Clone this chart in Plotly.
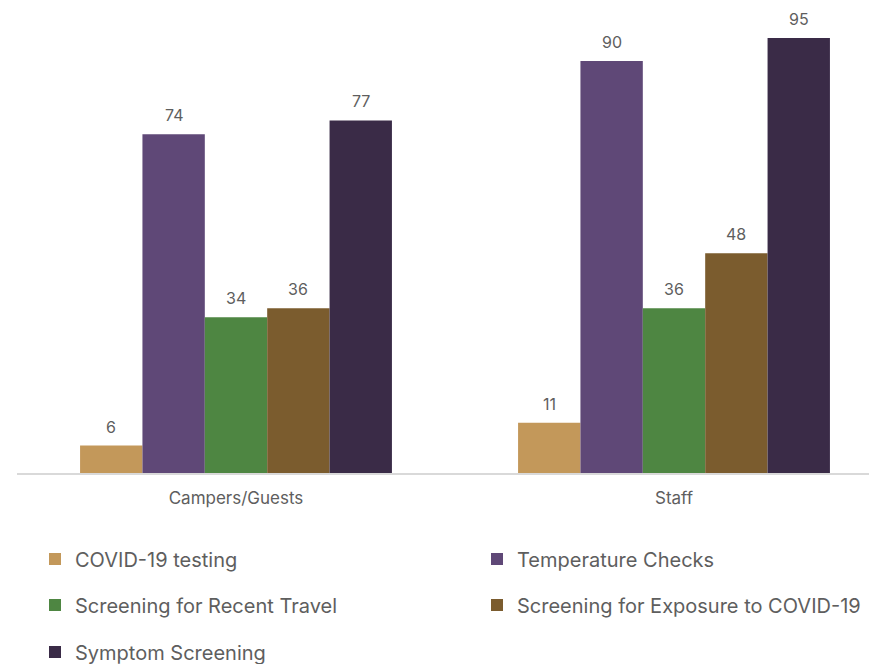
import plotly.graph_objects as go

categories = ["Campers/Guests", "Staff"]
series_names = [
    "COVID-19 testing",
    "Temperature Checks",
    "Screening for Recent Travel",
    "Screening for Exposure to COVID-19",
    "Symptom Screening",
]
covid_testing = [6, 11]
temperature_checks = [74, 90]
recent_travel = [34, 36]
exposure = [36, 48]
symptom_screening = [77, 95]
series_values = [covid_testing, temperature_checks, recent_travel, exposure, symptom_screening]
colors = ["#C3985A", "#5F4877", "#4E8642", "#7B5C2E", "#3A2B47"]

W, H = 877, 664
ML, MR, MT, MB = 9, 0, 0, 199
FONT = "Inter"
GRAY = "#5E5E5E"

px_per_unit = 438.0
x_range = [-0.5, -0.5 + (W - ML - MR) / px_per_unit]
bargap = 0.288
bar_px = (1 - bargap) * px_per_unit / len(series_names)

fig = go.Figure()
legend_rows = [(0, 0), (1, 0), (0, 1), (1, 1), (0, 2)]
legend_x_px = [27, 469]
legend_y_px = [551, 597, 644]

for i, (name, vals, col) in enumerate(zip(series_names, series_values, colors)):
    lg = "legend" if i == 0 else f"legend{i+1}"
    fig.add_trace(go.Bar(
        x=list(range(len(categories))), y=vals, name=name,
        marker=dict(color=col, line=dict(width=0)),
        legend=lg,
    ))
    for j, v in enumerate(vals):
        fig.add_annotation(
            x=j, y=v, text=str(v), showarrow=False,
            xshift=(i - (len(series_names) - 1) / 2) * bar_px,
            yanchor="bottom", yshift=7,
            font=dict(family=FONT, size=16, color=GRAY),
        )

layout_legends = {}
for i in range(len(series_names)):
    col, row = legend_rows[i]
    key = "legend" if i == 0 else f"legend{i+1}"
    layout_legends[key] = dict(
        x=legend_x_px[col] / W, y=1 - legend_y_px[row] / H,
        xref="container", yref="container",
        xanchor="left", yanchor="middle",
        font=dict(family=FONT, size=20, color=GRAY),
        bgcolor="rgba(0,0,0,0)", itemwidth=30,
    )

fig.update_layout(
    width=W, height=H,
    margin=dict(l=ML, r=MR, t=MT, b=MB, autoexpand=False),
    paper_bgcolor="white", plot_bgcolor="white",
    barmode="group", bargap=bargap, bargroupgap=0,
    showlegend=True,
    font=dict(family=FONT, color=GRAY),
    xaxis=dict(
        range=x_range, tickmode="array",
        tickvals=list(range(len(categories))), ticktext=categories,
        showline=True, linecolor="#D9D9D9", linewidth=1.5,
        ticks="outside", ticklen=9, tickcolor="rgba(0,0,0,0)",
        showgrid=False, zeroline=False,
        tickfont=dict(family=FONT, size=17, color=GRAY),
        fixedrange=True,
    ),
    yaxis=dict(range=[0, 101.55], visible=False, showgrid=False, zeroline=False),
    **layout_legends,
)

fig.write_html(
    "out.html",
    post_script="document.documentElement.style.overflow='hidden';document.body.style.overflow='hidden';",
)
